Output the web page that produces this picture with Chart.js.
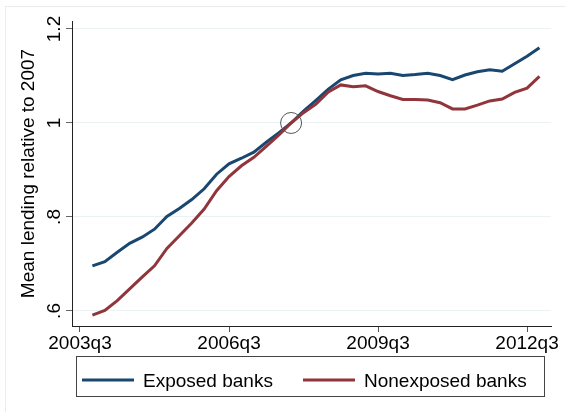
<!DOCTYPE html>
<html>
<head>
<meta charset="utf-8">
<script src="https://cdn.jsdelivr.net/npm/chart.js@4/dist/chart.umd.min.js"></script>
<style>
  html, body { margin: 0; padding: 0; background: #fff; }
  #wrap { width: 566px; height: 412px; }
</style>
</head>
<body>
<div id="wrap"><canvas id="lendingChart" width="566" height="412"></canvas></div>
<script>
// Quarters shown (2003q4 .. 2012q4)
const quarters = [
    '2003q4', '2004q1', '2004q2', '2004q3', '2004q4', '2005q1', '2005q2', '2005q3',
    '2005q4', '2006q1', '2006q2', '2006q3', '2006q4', '2007q1', '2007q2', '2007q3',
    '2007q4', '2008q1', '2008q2', '2008q3', '2008q4', '2009q1', '2009q2', '2009q3',
    '2009q4', '2010q1', '2010q2', '2010q3', '2010q4', '2011q1', '2011q2', '2011q3',
    '2011q4', '2012q1', '2012q2', '2012q3', '2012q4'
];

// Mean lending relative to 2007
const exposed = [
    0.696, 0.705, 0.725, 0.744, 0.757, 0.774, 0.801, 0.818,
    0.837, 0.860, 0.891, 0.913, 0.925, 0.938, 0.959, 0.979,
    1.000, 1.025, 1.048, 1.072, 1.092, 1.101, 1.106, 1.104,
    1.106, 1.101, 1.103, 1.106, 1.101, 1.092, 1.102, 1.109,
    1.113, 1.110, 1.126, 1.142, 1.160
];
const nonexposed = [
    0.591, 0.601, 0.622, 0.647, 0.672, 0.696, 0.733, 0.760,
    0.787, 0.817, 0.856, 0.886, 0.909, 0.927, 0.950, 0.974,
    1.000, 1.022, 1.040, 1.066, 1.081, 1.077, 1.079, 1.067,
    1.058, 1.050, 1.050, 1.049, 1.043, 1.030, 1.030, 1.038,
    1.047, 1.051, 1.065, 1.074, 1.099
];

// Marked point (circle)
const markQuarter = '2007q4';
const markValue = 1.0;

// Axis ticks
const xTickLabels = ['2003q3', '2006q3', '2009q3', '2012q3'];
const yTicks = [0.6, 0.8, 1.0, 1.2];
const yTickLabels = ['.6', '.8', '1', '1.2'];
const yTitle = 'Mean lending relative to 2007';

const seriesNames = ['Exposed banks', 'Nonexposed banks'];

// quarter string -> number of quarters since 2003q3
function qIndex(s) {
    return (parseInt(s.slice(0, 4), 10) - 2003) * 4 + parseInt(s.slice(5), 10) - 3;
}

const FONT = '"Liberation Sans", Arial, Helvetica, sans-serif';
Chart.defaults.font.family = FONT;
Chart.defaults.font.size = 19;
Chart.defaults.color = '#000';

const blue = '#1a476f';
const red = '#90353b';

// Rotated y labels and title, framed legend, outer frame
const decor = {
    id: 'decor',
    afterDraw(chart) {
        const ctx = chart.ctx;
        const yScale = chart.scales.y;
        const area = chart.chartArea;
        ctx.save();

        ctx.strokeStyle = '#ececec';
        ctx.lineWidth = 1;
        ctx.strokeRect(5.5, 6.5, 600, 500);

        ctx.fillStyle = '#000';
        ctx.font = '19px ' + FONT;
        ctx.textAlign = 'center';
        ctx.textBaseline = 'alphabetic';
        yTicks.forEach((v, i) => {
            ctx.save();
            ctx.translate(60, yScale.getPixelForValue(v));
            ctx.rotate(-Math.PI / 2);
            ctx.fillText(yTickLabels[i], 0, 0);
            ctx.restore();
        });

        ctx.save();
        ctx.translate(34, (area.top + area.bottom) / 2);
        ctx.rotate(-Math.PI / 2);
        ctx.fillText(yTitle, 0, 0);
        ctx.restore();

        // legend
        ctx.strokeStyle = '#444';
        ctx.lineWidth = 1;
        ctx.strokeRect(76.5, 356.5, 468, 40);
        const items = chart.data.datasets.slice(0, 2);
        const starts = [82, 303];
        ctx.textAlign = 'left';
        items.forEach((ds, i) => {
            ctx.strokeStyle = ds.borderColor;
            ctx.lineWidth = 3;
            ctx.beginPath();
            ctx.moveTo(starts[i], 380);
            ctx.lineTo(starts[i] + 52, 380);
            ctx.stroke();
            ctx.fillText(ds.label, starts[i] + 61, 387);
        });
        ctx.restore();
    }
};

const ctx = document.getElementById('lendingChart').getContext('2d');
const chart = new Chart(ctx, {
    type: 'line',
    data: {
        datasets: [{
            label: seriesNames[0],
            data: quarters.map((q, i) => ({ x: qIndex(q), y: exposed[i] })),
            borderColor: blue,
            backgroundColor: blue,
            borderWidth: 3,
            pointRadius: 0,
            tension: 0,
            order: 2
        }, {
            label: seriesNames[1],
            data: quarters.map((q, i) => ({ x: qIndex(q), y: nonexposed[i] })),
            borderColor: red,
            backgroundColor: red,
            borderWidth: 3,
            pointRadius: 0,
            tension: 0,
            order: 1
        }, {
            label: 'mark',
            data: [{ x: qIndex(markQuarter), y: markValue }],
            showLine: false,
            pointStyle: 'circle',
            pointRadius: 10.5,
            pointBorderColor: '#555',
            pointBackgroundColor: 'rgba(0,0,0,0)',
            pointBorderWidth: 1,
            order: 0
        }]
    },
    options: {
        responsive: false,
        animation: false,
        events: [],
        layout: {
            padding: { left: 0, top: 21, right: 15, bottom: 56 }
        },
        scales: {
            x: {
                type: 'linear',
                min: -0.644,
                max: 37.93,
                afterBuildTicks: s => { s.ticks = xTickLabels.map(qIndex).map(v => ({ value: v })); },
                afterFit: s => { s.height = 30; },
                ticks: {
                    padding: 0,
                    maxRotation: 0,
                    autoSkip: false,
                    callback: (v) => xTickLabels[xTickLabels.map(qIndex).indexOf(v)]
                },
                grid: {
                    drawOnChartArea: false,
                    tickLength: 6,
                    tickColor: '#555'
                },
                border: { color: '#222', width: 1 }
            },
            y: {
                min: 0.568,
                max: 1.217,
                afterBuildTicks: s => { s.ticks = yTicks.map(v => ({ value: v })); },
                afterFit: s => { s.width = 72; },
                ticks: {
                    color: 'rgba(0,0,0,0)',
                    callback: (v) => yTickLabels[yTicks.indexOf(v)]
                },
                grid: {
                    color: '#eaf2f3',
                    lineWidth: 1,
                    tickLength: 6,
                    tickColor: '#666'
                },
                border: { color: '#222', width: 1 }
            }
        },
        plugins: {
            legend: { display: false },
            tooltip: { enabled: false }
        }
    },
    plugins: [decor]
});
</script>
</body>
</html>
